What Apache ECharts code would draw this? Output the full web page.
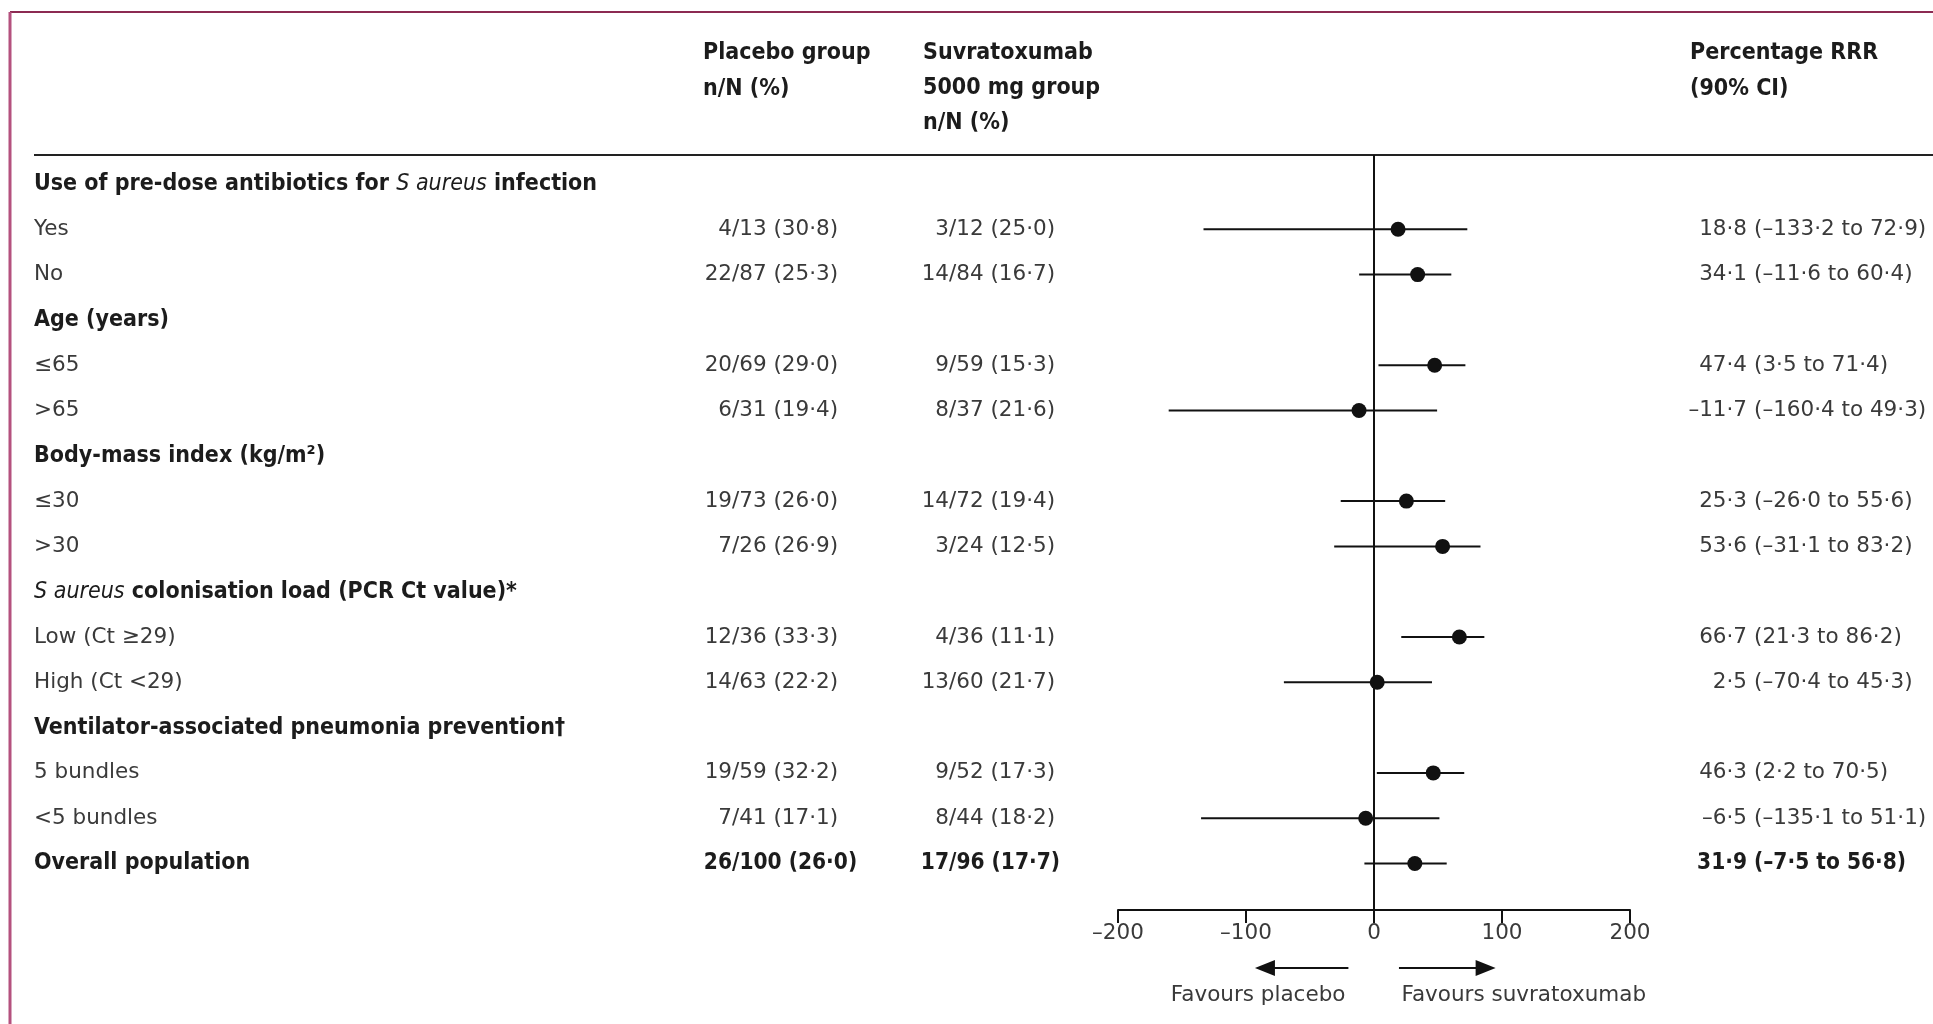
<!DOCTYPE html>
<html>
<head>
<meta charset="utf-8">
<script src="https://cdn.jsdelivr.net/npm/echarts@6/dist/echarts.min.js"></script>
<style>
html,body{margin:0;padding:0;background:#fff;}
#c{width:1933px;height:1024px;}
</style>
</head>
<body>
<div id="c"></div>
<script>
// ---------- data ----------
const rowLabels = [
  "Use of pre-dose antibiotics for S aureus infection",
  "Yes", "No",
  "Age (years)",
  "≤65", ">65",
  "Body-mass index (kg/m²)",
  "≤30", ">30",
  "S aureus colonisation load (PCR Ct value)*",
  "Low (Ct ≥29)", "High (Ct <29)",
  "Ventilator-associated pneumonia prevention†",
  "5 bundles", "<5 bundles",
  "Overall population"
];
const rowBold = [true,false,false,true,false,false,true,false,false,true,false,false,true,false,false,true];
const placeboEvents = [null,4,22,null,20,6,null,19,7,null,12,14,null,19,7,26];
const placeboTotal  = [null,13,87,null,69,31,null,73,26,null,36,63,null,59,41,100];
const placeboPct    = [null,30.8,25.3,null,29.0,19.4,null,26.0,26.9,null,33.3,22.2,null,32.2,17.1,26.0];
const suvEvents = [null,3,14,null,9,8,null,14,3,null,4,13,null,9,8,17];
const suvTotal  = [null,12,84,null,59,37,null,72,24,null,36,60,null,52,44,96];
const suvPct    = [null,25.0,16.7,null,15.3,21.6,null,19.4,12.5,null,11.1,21.7,null,17.3,18.2,17.7];
const rrr   = [null,18.8,34.1,null,47.4,-11.7,null,25.3,53.6,null,66.7,2.5,null,46.3,-6.5,31.9];
const ciLow = [null,-133.2,-11.6,null,3.5,-160.4,null,-26.0,-31.1,null,21.3,-70.4,null,2.2,-135.1,-7.5];
const ciHigh= [null,72.9,60.4,null,71.4,49.3,null,55.6,83.2,null,86.2,45.3,null,70.5,51.1,56.8];
const xTicks = [-200,-100,0,100,200];
const headerPlacebo = ["Placebo group","n/N (%)"];
const headerSuv = ["Suvratoxumab","5000 mg group","n/N (%)"];
const headerRRR = ["Percentage RRR","(90% CI)"];
const favoursLeft = "Favours placebo";
const favoursRight = "Favours suvratoxumab";

// ---------- styling ----------
const FONT_B = "'DejaVu Sans Condensed','Liberation Sans Narrow',sans-serif";
const FONT_R = "'DejaVu Sans','Liberation Sans',sans-serif";
const FS_R = 21.5;
const FS_B = 23;
const TXT = '#3a3a3a';
const TXTB = '#1c1c1c';
const INK = '#111';

function fmt(v){ return v.toFixed(1).replace('.', '·').replace('-', '–'); }

const chart = echarts.init(document.getElementById('c'), null, {renderer:'canvas'});

const ciData = [], ptData = [];
rrr.forEach((v,i)=>{ if(v!==null){ ciData.push([ciLow[i], ciHigh[i], i]); ptData.push([v,i]); } });

chart.setOption({
  backgroundColor:'#fff',
  animation:false,
  grid:{left:1118, right:303, top:155, bottom:114, containLabel:false},
  xAxis:{
    type:'value', min:xTicks[0], max:xTicks[xTicks.length-1], interval:100,
    axisLine:{show:true, onZero:false, lineStyle:{color:INK, width:2}},
    axisTick:{show:true, length:13, inside:false, lineStyle:{color:INK, width:2}},
    axisLabel:{show:true, margin:12, color:TXT, fontSize:FS_R, fontFamily:FONT_R,
      formatter:(v)=> String(v).replace('-', '–')},
    splitLine:{show:false}
  },
  yAxis:{type:'value', inverse:true, min:-0.64, max:16.027, show:false},
  series:[
    {
      type:'custom',
      data: ciData,
      renderItem:(params, api)=>{
        const a = api.coord([api.value(0), api.value(2)]);
        const b = api.coord([api.value(1), api.value(2)]);
        return {type:'line', shape:{x1:a[0], y1:a[1], x2:b[0], y2:b[1]},
          style:{stroke:INK, lineWidth:2}};
      },
      encode:{x:[0,1], y:2},
      markLine:{
        silent:true, symbol:['none','none'], label:{show:false},
        lineStyle:{color:INK, width:2, type:'solid'},
        data:[{xAxis:0}]
      },
      z:2
    },
    {
      type:'scatter', data: ptData, symbol:'circle', symbolSize:15,
      itemStyle:{color:INK, opacity:1}, z:3
    }
  ]
});

// ---------- table text via axis scale ----------
function rowY(i){ return chart.convertToPixel({yAxisIndex:0}, i); }
function xPix(v){ return chart.convertToPixel({xAxisIndex:0}, v); }

const g = [];
function txt(s, x, y, align, bold, rich){
  const st = {text:s, x:x, y:y, fill: bold?TXTB:TXT,
    fontSize: bold?FS_B:FS_R, fontFamily: bold?FONT_B:FONT_R, fontWeight: bold?'bold':'normal',
    align:align, verticalAlign:'middle', textAlign:align, textVerticalAlign:'middle'};
  if(rich) st.rich = rich;
  g.push({type:'text', style:st, z:10});
}
function numTxt(s, x, y, align, bold){
  const st = {text:s, x:x, y:y, fill: bold?TXTB:TXT,
    fontSize: bold?22.5:FS_R, fontFamily: bold?FONT_B:FONT_R, fontWeight: bold?'bold':'normal',
    align:align, verticalAlign:'middle', textAlign:align, textVerticalAlign:'middle'};
  g.push({type:'text', style:st, z:10});
}

// frame
g.push({type:'line', shape:{x1:10,y1:12,x2:1933,y2:12}, style:{stroke:'#8c2a52', lineWidth:2}});
g.push({type:'line', shape:{x1:10,y1:12,x2:10,y2:1024}, style:{stroke:'#b4517e', lineWidth:3}});
// header rule
g.push({type:'line', shape:{x1:34,y1:155,x2:1933,y2:155}, style:{stroke:'#222', lineWidth:2}});

// headers
headerPlacebo.forEach((s,k)=>txt(s, 703, 53 + k*36, 'left', true));
headerSuv.forEach((s,k)=>txt(s, 923, 53 + k*35, 'left', true));
headerRRR.forEach((s,k)=>txt(s, 1690, 53 + k*36, 'left', true));

const colP = 732, colS = 949, colRest = 1747, colCI = 1754;
const last = rowLabels.length - 1;
rowLabels.forEach((lab,i)=>{
  const y = rowY(i);
  const b = rowBold[i];
  if(lab.indexOf('S aureus')>=0){
    const r = lab.replace('S aureus', '{i|S aureus}');
    const rich = {i:{fontStyle:'italic', fontSize:FS_B, fontFamily:FONT_B,
      fontWeight:'normal', fill:TXTB}};
    txt(r, 34, y, 'left', b, rich);
  } else {
    txt(lab, 34, y, 'left', b);
  }
  if(placeboEvents[i]!==null){
    const bo = (i===last);
    numTxt(String(placeboEvents[i]), colP, y, 'right', bo);
    numTxt('/' + placeboTotal[i] + ' (' + fmt(placeboPct[i]) + ')', colP, y, 'left', bo);
    numTxt(String(suvEvents[i]), colS, y, 'right', bo);
    numTxt('/' + suvTotal[i] + ' (' + fmt(suvPct[i]) + ')', colS, y, 'left', bo);
    numTxt(fmt(rrr[i]), colRest, y, 'right', bo);
    numTxt('(' + fmt(ciLow[i]) + ' to ' + fmt(ciHigh[i]) + ')', colCI, y, 'left', bo);
  }
});

// favours arrows
const ay = 968;
const l1 = xPix(-20), l2 = xPix(-93);
const r1 = xPix(19.5), r2 = xPix(95);
g.push({type:'line', shape:{x1:l1,y1:ay,x2:l2+16,y2:ay}, style:{stroke:INK, lineWidth:2}});
g.push({type:'polygon', shape:{points:[[l2,ay],[l2+20,ay-8],[l2+20,ay+8]]}, style:{fill:INK}});
g.push({type:'line', shape:{x1:r1,y1:ay,x2:r2-16,y2:ay}, style:{stroke:INK, lineWidth:2}});
g.push({type:'polygon', shape:{points:[[r2,ay],[r2-20,ay-8],[r2-20,ay+8]]}, style:{fill:INK}});
txt(favoursLeft, xPix(-90.5), 995, 'center', false);
txt(favoursRight, xPix(117), 995, 'center', false);

chart.setOption({graphic:{elements:g}});
</script>
</body>
</html>
